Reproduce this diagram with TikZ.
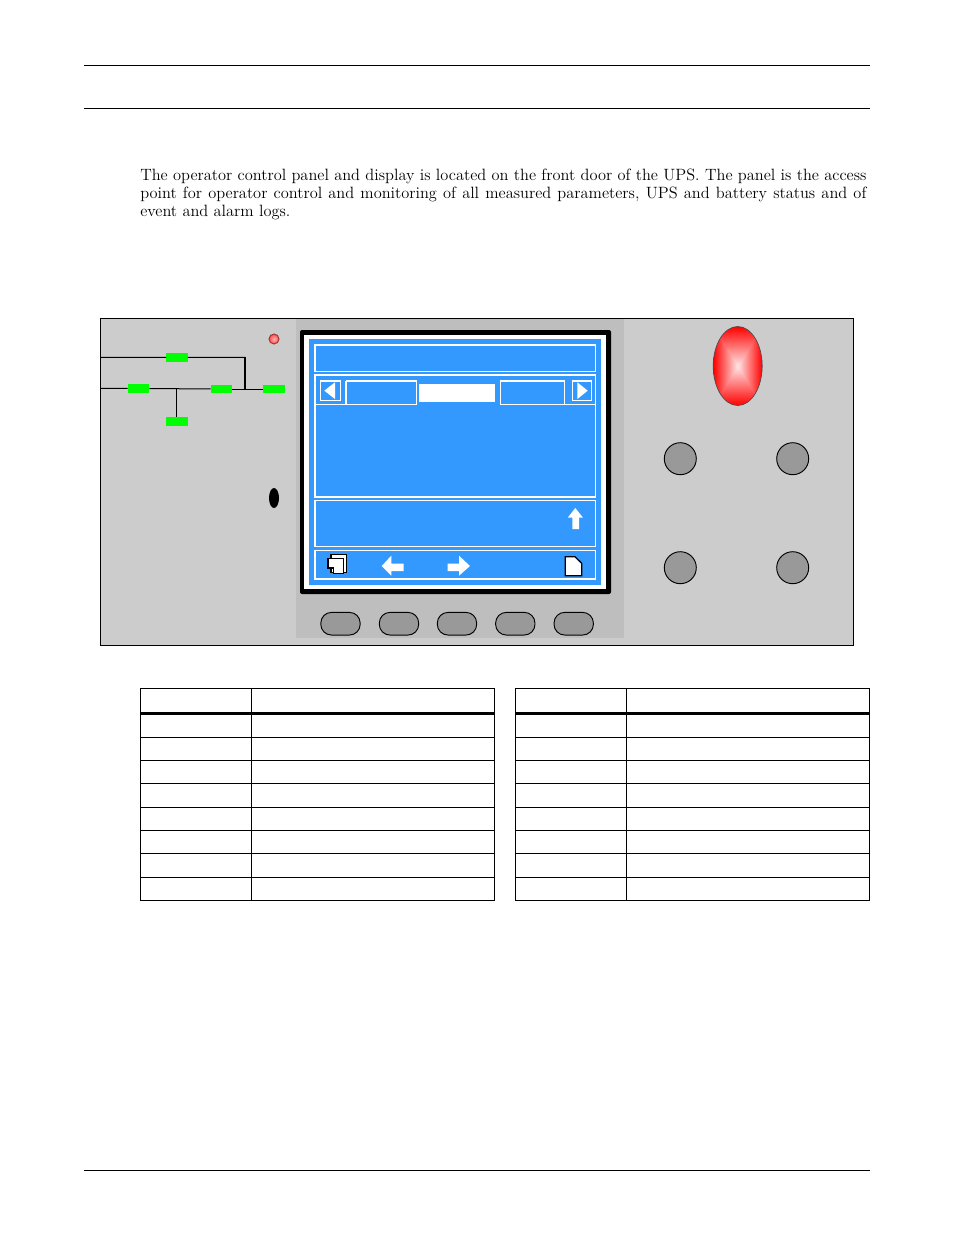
\documentclass[tikz,border=0pt]{standalone}
\usepackage{xcolor}
\usetikzlibrary{positioning}

\definecolor{panelgray}{HTML}{CCCCCC}
\definecolor{bezelgray}{HTML}{BEBEBE}
\definecolor{keygray}{HTML}{999999}
\definecolor{screenblue}{HTML}{3399FF}

\pgfdeclarefunctionalshading{pillow}{\pgfpoint{-50bp}{-50bp}}{\pgfpoint{50bp}{50bp}}{}{
	abs exch abs 2 copy lt {exch} if pop 25 div dup 1 gt {pop 1} if
	1 exch sub 0.9 mul dup 1 3 1 roll
}

\tikzset{
	rule/.style={line width=0.75pt},
	greenbox/.style={fill=green, inner sep=0pt, minimum width=16pt, minimum height=6.5pt},
	softkey/.style={draw, fill=keygray, line width=0.7pt, inner sep=0pt, minimum width=29.5pt, minimum height=17pt, rounded corners=8pt},
	roundkey/.style={draw, circle, fill=keygray, line width=0.7pt, inner sep=0pt, minimum size=24pt},
	scrbox/.style={draw=white, line width=0.8pt},
	scrfill/.style={fill=white},
	icon/.style={draw=black, fill=white, line width=0.95pt}
}

\begin{document}
\begin{tikzpicture}[x=0.75pt, y=-0.75pt]
	\useasboundingbox (0, 0) rectangle (954, 1235);
	
	% page rules
	\draw[rule] (84, 65) -- (870, 65);
	\draw[rule] (84, 108.5) -- (870, 108.5);
	\draw[rule] (84, 1170.5) -- (870, 1170.5);
	
	\node[anchor=north west, inner sep=0pt, text width=544.6pt, align=justify, font=\fontsize{12.27}{13.5}\selectfont] (intro) at (140, 168.8) {%
		The operator control panel and display is located on the front door of the UPS. The panel is the access
		point for operator control and monitoring of all measured parameters, UPS and battery status and of
		event and alarm logs.};
	
	% panel
	\fill[panelgray] (100.5, 318) rectangle (853.5, 645);
	\fill[bezelgray] (296, 318) rectangle (624, 638);
	\draw[rule] (100.5, 318) rectangle (853.5, 645);
	
	% mimic bus
	\coordinate (bypassin) at (101, 357.3);
	\coordinate (mainin) at (101, 388.3);
	\coordinate (bypassend) at (245, 357.3);
	\coordinate (join) at (245, 388.8);
	\coordinate (tee) at (176.5, 388.3);
	
	\node[greenbox, minimum height=7pt] (bypass) at (177, 357.5) {};
	\node[greenbox] (rectifier) at (138.5, 388.5) {};
	\node[greenbox] (inverter) at (221.5, 389) {};
	\node[greenbox] (output) at (274, 389) {};
	\node[greenbox, minimum height=7pt] (battery) at (177, 421.5) {};
	
	\draw[rule] (mainin) -- (rectifier);
	\draw[rule] (rectifier) -- (inverter);
	\draw[rule] (inverter) -- (output);
	\draw[rule] (bypassin) -- (bypass);
	\draw[rule] (bypass) -- (bypassend);
	\draw[line width=1.5pt] (bypassend) -- (join);
	\draw[rule] (tee) -- (tee |- battery.north);
	
	\node[circle, draw=red!55!black!80, inner color=red!30!white, outer color=red!70!white, line width=0.7pt, inner sep=0pt, minimum size=7.5pt] (led) at (274, 339) {};
	\fill[black] (274, 498) ellipse (5 and 10);
	
	% screen
	\fill[black, rounded corners=1.5pt] (300, 330) rectangle (611, 594);
	\fill[white] (304, 335) rectangle (606, 589);
	\fill[screenblue] (309, 339) rectangle (601, 585);
	\draw[scrbox] (315, 345) rectangle (595.5, 371.5);
	\draw[scrbox] (315, 375) rectangle (595.5, 497);
	\draw[scrbox] (315, 500.8) rectangle (595.5, 546.3);
	\draw[scrbox] (315, 550.8) rectangle (595.5, 579);
	\draw[scrbox] (315, 404.5) -- (416.3, 404.5);
	\draw[scrbox] (500.3, 404.5) -- (595.5, 404.5);
	
	% tabs
	\draw[scrbox] (320.3, 381) rectangle (340.3, 400.7);
	\draw[scrbox] (572.3, 381) rectangle (591.7, 400.7);
	\draw[scrbox, line width=1.2pt] (346, 404.5) -- (346, 381);
	\draw[scrbox] (346, 381) -| (416.3, 404.5);
	\draw[scrbox] (500.3, 404.5) |- (564.3, 381) -- (564.3, 404.5);
	\fill[scrfill] (419, 384) rectangle (495, 402);
	\fill[scrfill] (324.3, 390.7) -- (335, 382.3) -- (335, 399) -- cycle;
	\fill[scrfill] (587.7, 390.7) -- (577.3, 382.3) -- (577.3, 399) -- cycle;
	
	% arrows and page icons
	\fill[scrfill] (575.3, 508) -- (583, 517.7) -- (579, 517.7) -- (579, 529) -- (572.3, 529) -- (572.3, 517.7) -- (567.7, 517.7) -- cycle;
	\fill[scrfill] (381.7, 566) -- (391.3, 555.7) -- (391.3, 563.7) -- (403.7, 563.7) -- (403.7, 571) -- (391.3, 571) -- (391.3, 575.7) -- cycle;
	\fill[scrfill] (470, 566) -- (459, 555.7) -- (459, 563.7) -- (447.7, 563.7) -- (447.7, 571) -- (459, 571) -- (459, 575.7) -- cycle;
	
	\draw[icon] (331, 554.8) rectangle (346.3, 572.5);
	\draw[icon] (328, 558.3) -- (343.6, 558.3) -- (343.6, 573.3) -- (333.3, 573.3) -- (333.3, 568) -- (328, 568) -- cycle;
	\draw[icon] (565.3, 556.7) -- (575, 556.7) -- (581.7, 563.3) -- (581.7, 575.7) -- (565.3, 575.7) -- cycle;
	
	% soft keys
	\foreach \keyx/\keyname in {340.5/softa, 399/softb, 457/softc, 515.3/softd, 573.7/softe}
		\node[softkey] (\keyname) at (\keyx, 623.7) {};
	
	% right hand keys
	\shade[shading=pillow, draw=black!70, line width=0.5pt] (737.7, 366) ellipse (24.5 and 39.5);
	\node[roundkey] (keya) at (680.3, 458.7) {};
	\node[roundkey] (keyb) at (792.7, 458.7) {};
	\node[roundkey] (keyc) at (680.3, 567.7) {};
	\node[roundkey] (keyd) at (792.7, 567.7) {};
	
	% tables
	\foreach \tabx in {0, 375} {
		\draw[rule] (140.5+\tabx, 688.5) rectangle (494.5+\tabx, 900.5);
		\draw[rule] (251.5+\tabx, 688.5) -- (251.5+\tabx, 900.5);
		\draw[line width=2pt] (140.5+\tabx, 713.3) -- (494.5+\tabx, 713.3);
		\foreach \taby in {737.5, 760.5, 783.5, 807.5, 830.5, 853.5, 877.5}
			\draw[rule] (140.5+\tabx, \taby) -- (494.5+\tabx, \taby);
	}
\end{tikzpicture}
\end{document}
